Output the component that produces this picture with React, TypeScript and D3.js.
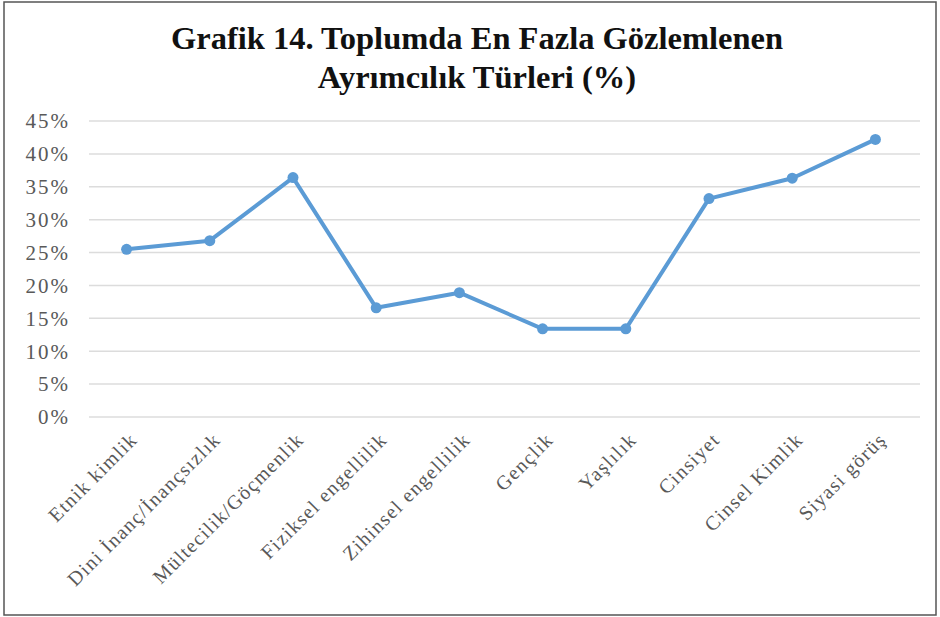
import React from "react";
import * as d3 from "d3";

const categories = [
  "Etnik kimlik",
  "Dini İnanç/İnançsızlık",
  "Mültecilik/Göçmenlik",
  "Fiziksel engellilik",
  "Zihinsel engellilik",
  "Gençlik",
  "Yaşlılık",
  "Cinsiyet",
  "Cinsel Kimlik",
  "Siyasi görüş",
];
const values = [25.5, 26.8, 36.4, 16.6, 18.9, 13.4, 13.4, 33.2, 36.3, 42.2];
const yTicks = [0, 5, 10, 15, 20, 25, 30, 35, 40, 45];
const titleLines = ["Grafik 14. Toplumda En Fazla Gözlemlenen", "Ayrımcılık Türleri (%)"];

const W = 940;
const H = 617;
const margin = { left: 85, right: 23, top: 121, bottom: 200 };

export default function App() {
  const x = d3
    .scaleBand<string>()
    .domain(categories)
    .range([margin.left, W - margin.right]);
  const y = d3.scaleLinear().domain([0, 45]).range([H - margin.bottom, margin.top]);
  const cx = (c: string) => (x(c) ?? 0) + x.bandwidth() / 2;

  const line = d3
    .line<number>()
    .x((_, i) => cx(categories[i]))
    .y((d) => y(d));

  const font = "'Liberation Serif', serif";
  const grey = "#595959";

  return (
    <svg
      width={W}
      height={H}
      style={{ position: "absolute", left: 0, top: 0, background: "#fff" }}
    >
      <rect x={4} y={2} width={932} height={613} fill="#fff" stroke="#555" strokeWidth={1.5} />
      {titleLines.map((t, i) => (
        <text
          key={t}
          x={477}
          y={49 + i * 39}
          textAnchor="middle"
          fontFamily={font}
          fontWeight="bold"
          fontSize={32.5}
          fill="#111"
        >
          {t}
        </text>
      ))}
      {yTicks.map((t) => (
        <g key={t}>
          <line
            x1={margin.left + 4}
            x2={W - margin.right + 3}
            y1={y(t)}
            y2={y(t)}
            stroke="#dcdcdc"
            strokeWidth={1.5}
          />
          <text
            x={70}
            y={y(t)}
            dy="0.35em"
            textAnchor="end"
            fontFamily={font}
            fontSize={21}
            letterSpacing={2}
            fill={grey}
          >
            {t}%
          </text>
        </g>
      ))}
      {categories.map((c) => (
        <text
          key={c}
          transform={`translate(${cx(c) + 12},${441}) rotate(-45)`}
          textAnchor="end"
          fontFamily={font}
          fontSize={20}
          letterSpacing={1.3}
          fill={grey}
        >
          {c}
        </text>
      ))}
      <path d={line(values) ?? ""} fill="none" stroke="#5b9bd5" strokeWidth={4} strokeLinejoin="round" />
      {values.map((v, i) => (
        <circle key={i} cx={cx(categories[i])} cy={y(v)} r={5.5} fill="#5b9bd5" />
      ))}
    </svg>
  );
}
